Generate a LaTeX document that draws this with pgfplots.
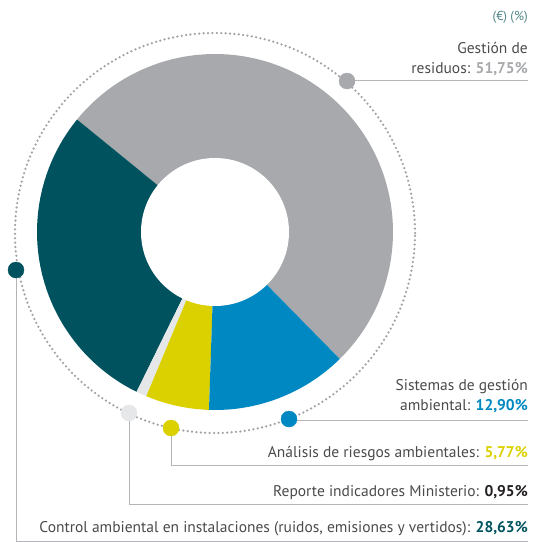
\documentclass[border=0pt]{standalone}
\usepackage{pgfplots}
\usepackage{pgfplotstable}
\pgfplotsset{compat=1.18}
\usepackage{fontspec}
\setmainfont{PT Sans}
\definecolor{cgray}{HTML}{A7A9AC}
\definecolor{cteal}{HTML}{00535E}
\definecolor{clight}{HTML}{E6E7E8}
\definecolor{cyellow}{HTML}{DBD000}
\definecolor{cblue}{HTML}{0088C2}
\definecolor{ctext}{HTML}{4A4A4A}
\definecolor{cline}{HTML}{B3B5B8}
\definecolor{cdot}{HTML}{A0A2A5}
\definecolor{cunit}{HTML}{4F8486}
\definecolor{cblack}{HTML}{231F20}

\pgfplotstableread{
share colour
51.75 cgray
28.63 cteal
0.95 clight
5.77 cyellow
12.90 cblue
}\donutdata

\begin{document}
\begin{tikzpicture}
\begin{axis}[
  scale only axis, width=534bp, height=542bp,
  xmin=0, xmax=534, ymin=0, ymax=542, y dir=reverse,
  hide axis, clip=false]
\addplot[draw=none] coordinates {(0,0) (534,542)};
% donut
\pgfplotsextra{
  \pgfplotstablegetrowsof{\donutdata}
  \pgfmathtruncatemacro\nrows{\pgfplotsretval-1}
  \gdef\curang{-45.5}
  \foreach \i in {0,...,\nrows}{
    \pgfplotstablegetelem{\i}{share}\of\donutdata
    \let\share\pgfplotsretval
    \pgfplotstablegetelem{\i}{colour}\of\donutdata
    \let\col\pgfplotsretval
    \pgfmathsetmacro\endang{\curang+3.6*\share}
    \fill[\col] (axis cs:215,232) -- ++(\curang:178bp) arc[start angle=\curang, end angle=\endang, radius=178bp] -- cycle;
    \xdef\curang{\endang}
  }
  \fill[white] (axis cs:215,232) circle[radius=74bp];
  \draw[cdot, line width=2.5bp, line cap=round, dash pattern=on 0pt off 4.4bp] (axis cs:215,233) circle[radius=200bp];
}
% leader lines
\addplot[cline, line width=1bp] coordinates {(347,81) (528,81)};
\addplot[cline, line width=1bp] coordinates {(289,420) (528,420)};
\addplot[cline, line width=1bp] coordinates {(171,428) (171,465) (528,465)};
\addplot[cline, line width=1bp] coordinates {(129,413) (129,504) (528,504)};
\addplot[cline, line width=1bp] coordinates {(16,270) (16,541) (528,541)};
% dots
\addplot[only marks, mark=*, mark size=8bp, cgray, mark options={draw=none, fill=cgray}] coordinates {(347,81)};
\addplot[only marks, mark=*, mark size=8bp, cblue, mark options={draw=none, fill=cblue}] coordinates {(289,419)};
\addplot[only marks, mark=*, mark size=8bp, cyellow, mark options={draw=none, fill=cyellow}] coordinates {(171,428)};
\addplot[only marks, mark=*, mark size=8bp, clight, mark options={draw=none, fill=clight}] coordinates {(129,413)};
\addplot[only marks, mark=*, mark size=8bp, cteal, mark options={draw=none, fill=cteal}] coordinates {(16,270)};
% texts
\begin{scope}[every node/.style={anchor=base east, inner sep=0pt, text=ctext, font=\fontsize{15.5bp}{18bp}\selectfont}]
\node[font=\fontsize{13bp}{15bp}\selectfont, text=cunit] at (axis cs:528,21) {(€) (\%)};
\node at (axis cs:528,54) {Gestión de};
\node at (axis cs:528,74) {residuos: \textbf{\color{cgray}51,75\%}};
\node at (axis cs:528,390) {Sistemas de gestión};
\node at (axis cs:528,410) {ambiental: \textbf{\color{cblue}12,90\%}};
\node at (axis cs:528,457) {Análisis de riesgos ambientales: \textbf{\color{cyellow}5,77\%}};
\node at (axis cs:528,496) {Reporte indicadores Ministerio: \textbf{\color{cblack}0,95\%}};
\node at (axis cs:528,532) {Control ambiental en instalaciones (ruidos, emisiones y vertidos): \textbf{\color{cteal}28,63\%}};
\end{scope}
\end{axis}
\end{tikzpicture}
\end{document}
